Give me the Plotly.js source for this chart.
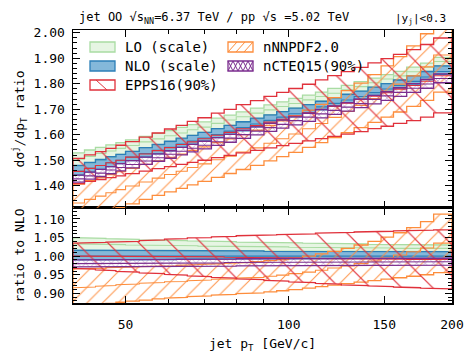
<!DOCTYPE html>
<html>
<head>
<meta charset="utf-8">
<script src="https://cdn.plot.ly/plotly-3.0.1.min.js"></script>
<style>html,body{margin:0;padding:0;background:#fff}#chart{width:464px;height:357px}</style>
</head>
<body>
<div id="chart"></div>
<script>
// pT bin edges [GeV/c]
const binEdges = [40,42,44,46,48,50,53,56,59,62,65,68,72,76,80,85,90,95,100,106,112,118,125,132,140,148,156,165,175,185,200];

// NLO central value of the OO/pp jet spectrum ratio, per bin
const nloCentral = [1.456,1.468,1.479,1.490,1.500,1.512,1.526,1.539,1.551,1.563,1.575,1.587,1.601,1.614,1.628,1.642,1.656,1.669,1.682,1.696,1.709,1.723,1.736,1.750,1.765,1.779,1.793,1.809,1.826,1.848];

// Everything below is relative to the NLO central value, per bin
const loLow    = [1.015,1.015,1.015,1.015,1.015,1.015,1.015,1.014,1.014,1.014,1.014,1.014,1.014,1.014,1.013,1.013,1.013,1.013,1.013,1.013,1.013,1.012,1.012,1.012,1.012,1.012,1.012,1.012,1.012,1.012];
const loMid    = [1.033,1.032,1.032,1.031,1.031,1.030,1.030,1.029,1.029,1.028,1.028,1.027,1.027,1.027,1.026,1.026,1.025,1.025,1.024,1.024,1.024,1.023,1.023,1.022,1.022,1.022,1.021,1.021,1.021,1.021];
const loHigh   = [1.050,1.049,1.048,1.047,1.046,1.045,1.044,1.043,1.042,1.042,1.041,1.040,1.040,1.039,1.038,1.038,1.037,1.036,1.036,1.035,1.034,1.034,1.033,1.033,1.032,1.032,1.031,1.031,1.030,1.030];
const nloLow   = [0.990,0.990,0.990,0.990,0.991,0.991,0.991,0.991,0.991,0.992,0.992,0.992,0.992,0.992,0.992,0.993,0.993,0.993,0.993,0.993,0.993,0.993,0.994,0.994,0.994,0.994,0.994,0.994,0.994,0.994];
const nloHigh  = [1.016,1.016,1.016,1.016,1.015,1.015,1.015,1.015,1.015,1.015,1.014,1.014,1.014,1.014,1.014,1.014,1.013,1.013,1.013,1.013,1.013,1.013,1.013,1.012,1.012,1.012,1.012,1.012,1.012,1.012];
const eppsLow  = [0.967,0.965,0.963,0.961,0.959,0.957,0.955,0.953,0.951,0.949,0.947,0.945,0.943,0.941,0.939,0.937,0.935,0.933,0.931,0.929,0.927,0.925,0.923,0.921,0.920,0.918,0.917,0.915,0.914,0.912];
const eppsMid  = [1.000,1.000,1.000,1.000,1.000,1.000,0.999,0.999,0.999,0.999,0.998,0.998,0.998,0.997,0.997,0.996,0.996,0.995,0.995,0.994,0.994,0.993,0.993,0.993,0.992,0.992,0.992,0.991,0.991,0.991];
const eppsHigh = [1.035,1.036,1.037,1.038,1.039,1.040,1.042,1.044,1.046,1.047,1.049,1.050,1.052,1.053,1.055,1.056,1.057,1.058,1.059,1.060,1.062,1.063,1.064,1.065,1.066,1.067,1.068,1.069,1.070,1.071];
const nnpdfLow = [0.864,0.867,0.870,0.873,0.876,0.879,0.882,0.885,0.887,0.889,0.891,0.893,0.895,0.897,0.899,0.901,0.904,0.907,0.910,0.914,0.918,0.922,0.926,0.930,0.934,0.938,0.942,0.946,0.950,0.956];
const nnpdfMid = [0.915,0.917,0.919,0.921,0.923,0.925,0.927,0.929,0.931,0.932,0.934,0.936,0.938,0.939,0.941,0.943,0.946,0.949,0.953,0.957,0.962,0.968,0.974,0.980,0.987,0.995,1.003,1.012,1.022,1.035];
const nnpdfHigh= [0.966,0.967,0.968,0.969,0.970,0.971,0.972,0.973,0.974,0.975,0.977,0.978,0.980,0.981,0.983,0.985,0.988,0.991,0.995,1.000,1.006,1.013,1.021,1.030,1.040,1.051,1.063,1.077,1.093,1.113];
const ncteqLow = [0.971,0.971,0.971,0.971,0.972,0.972,0.972,0.972,0.972,0.973,0.973,0.973,0.973,0.973,0.974,0.974,0.974,0.974,0.974,0.974,0.975,0.975,0.975,0.975,0.975,0.975,0.976,0.976,0.976,0.976];
const ncteqMid = [0.980,0.980,0.980,0.981,0.981,0.981,0.981,0.981,0.982,0.982,0.982,0.982,0.982,0.983,0.983,0.983,0.983,0.983,0.984,0.984,0.984,0.984,0.984,0.984,0.985,0.985,0.985,0.985,0.985,0.985];
const ncteqHigh= [0.990,0.990,0.990,0.990,0.991,0.991,0.991,0.991,0.991,0.992,0.992,0.992,0.992,0.992,0.993,0.993,0.993,0.993,0.993,0.993,0.994,0.994,0.994,0.994,0.994,0.994,0.995,0.995,0.995,0.995];

// Tick labels
const xTicks = [50,100,150,200];
const xMinorTicks = [60,70,80,90];
const yTopTicks = [1.40,1.50,1.60,1.70,1.80,1.90,2.00];
const yRatioTicks = [0.90,0.95,1.00,1.05,1.10];

const nloOne = nloCentral.map(v => v / v);

const series = [
  {name:'LO (scale)',   lo:loLow,    mid:loMid,    hi:loHigh,    line:'#a9dca3', fill:'rgba(199,233,192,0.45)', pattern:null},
  {name:'NLO (scale)',  lo:nloLow,   mid:nloOne,   hi:nloHigh,   line:'#2c7fb8', fill:'rgba(66,146,198,0.65)', pattern:null},
  {name:'nNNPDF2.0',    lo:nnpdfLow, mid:nnpdfMid, hi:nnpdfHigh, line:'#fd8d3c', fill:null, pattern:{shape:'/', size:11, solidity:0.1}},
  {name:'EPPS16(90%)',  lo:eppsLow,  mid:eppsMid,  hi:eppsHigh,  line:'#e0313b', fill:null, pattern:{shape:'\\', size:22, solidity:0.055}},
  {name:'nCTEQ15(90%)', lo:ncteqLow, mid:ncteqMid, hi:ncteqHigh, line:'#7b2d8e', fill:null, pattern:{shape:'x', size:6, solidity:0.12}}
];

// Step-shaped band: upper edge left to right, lower edge back
function stepBand(lo, hi, scale) {
  const xs = [], ys = [];
  const k = i => (scale ? scale[i] : 1);
  for (let i = 0; i < hi.length; i++) { xs.push(binEdges[i], binEdges[i+1]); ys.push(hi[i]*k(i), hi[i]*k(i)); }
  for (let i = lo.length - 1; i >= 0; i--) { xs.push(binEdges[i+1], binEdges[i]); ys.push(lo[i]*k(i), lo[i]*k(i)); }
  xs.push(xs[0]); ys.push(ys[0]);
  return {xs, ys};
}
// Central value as a step line
function stepLine(v, scale) {
  const xs = [], ys = [];
  v.forEach((y, i) => { const val = y * (scale ? scale[i] : 1); xs.push(binEdges[i], binEdges[i+1]); ys.push(val, val); });
  return {xs, ys};
}

const traces = [];
series.forEach(s => {
  [['x2','y2',nloCentral],['x','y',null]].forEach(([xa, ya, sc]) => {
    const b = stepBand(s.lo, s.hi, sc);
    const t = {
      x: b.xs, y: b.ys, xaxis: xa, yaxis: ya, mode: 'lines', fill: 'toself',
      line: {color: s.line, width: 1.3}, hoverinfo: 'skip', showlegend: false, name: s.name
    };
    if (s.pattern) {
      t.fillcolor = 'rgba(0,0,0,0)';
      t.fillpattern = {shape: s.pattern.shape, fgcolor: s.line, bgcolor: 'rgba(0,0,0,0)', size: s.pattern.size, solidity: s.pattern.solidity, fgopacity: 0.9};
    } else {
      t.fillcolor = s.fill;
    }
    traces.push(t);
    const m = stepLine(s.mid, sc);
    traces.push({
      x: m.xs, y: m.ys, xaxis: xa, yaxis: ya, mode: 'lines',
      line: {color: s.line, width: 1.1}, hoverinfo: 'skip', showlegend: false, name: s.name
    });
  });
});

const mono = '"DejaVu Sans Mono", "Liberation Mono", monospace';
function xAxis(anchor, labels) {
  return {
    type: 'log', autorange: false, range: [Math.log10(40), Math.log10(200)], anchor: anchor,
    showline: true, linecolor: '#000', linewidth: 1.5, mirror: 'allticks',
    ticks: 'inside', ticklen: 7, tickwidth: 1, tickcolor: '#000',
    tickmode: 'array', tickvals: xTicks.slice(), ticktext: xTicks.map(String),
    showticklabels: labels, tickfont: {size: 13}, ticklabelstandoff: 9,
    minor: {tickmode: 'array', tickvals: xMinorTicks.slice(), ticks: 'inside', ticklen: 4, tickcolor: '#000'},
    showgrid: false, zeroline: false, fixedrange: true
  };
}

const layout = {
  width: 464, height: 357,
  margin: {l: 73, r: 12, t: 30, b: 54},
  paper_bgcolor: '#fff', plot_bgcolor: '#fff',
  font: {family: mono, size: 13, color: '#000'},
  showlegend: false,
  xaxis: Object.assign(xAxis('y', true), {
    title: {text: 'jet p<sub>T</sub> [GeV/c]', font: {size: 13}, standoff: 8}
  }),
  xaxis2: xAxis('y2', false),
  yaxis: {
    domain: [0, 0.348], autorange: false, range: [0.874, 1.1296], anchor: 'x',
    showline: true, linecolor: '#000', linewidth: 1.5, mirror: 'allticks',
    ticks: 'inside', ticklen: 7, tickcolor: '#000',
    tickmode: 'array', tickvals: yRatioTicks, ticktext: yRatioTicks.map(v => v.toFixed(2)),
    tickfont: {size: 13},
    minor: {dtick: 0.01, ticks: 'inside', ticklen: 4, tickcolor: '#000'},
    showgrid: false, zeroline: false, fixedrange: true, ticklabelstandoff: 4,
    title: {text: 'ratio to NLO', font: {size: 13}, standoff: 6}
  },
  yaxis2: {
    domain: [0.348, 1], autorange: false, range: [1.3125, 2.0106], anchor: 'x2',
    showline: true, linecolor: '#000', linewidth: 1.5, mirror: 'allticks',
    ticks: 'inside', ticklen: 7, tickcolor: '#000',
    tickmode: 'array', tickvals: yTopTicks, ticktext: yTopTicks.map(v => v.toFixed(2)),
    tickfont: {size: 13},
    minor: {dtick: 0.02, ticks: 'inside', ticklen: 4, tickcolor: '#000'},
    showgrid: false, zeroline: false, fixedrange: true, ticklabelstandoff: 4,
    title: {text: 'dσ<sup>j</sup>/dp<sub>T</sub> ratio', font: {size: 13}, standoff: 6}
  },
  annotations: [
    {text: 'jet OO √s<sub>NN</sub>=6.37 TeV / pp √s =5.02 TeV', xref: 'paper', yref: 'paper',
     x: 0.01, y: 1, xanchor: 'left', yanchor: 'bottom', yshift: 2, showarrow: false, font: {size: 12}},
    {text: '|y<sub>j</sub>|<0.3', xref: 'paper', yref: 'paper',
     x: 0.99, y: 1, xanchor: 'right', yanchor: 'bottom', yshift: 2, showarrow: false, font: {size: 11}}
  ],
  shapes: []
};

// Hand-built legend inside the upper panel
const legendItems = [
  {label: 'LO (scale)',   col: 0, row: 0, s: series[0]},
  {label: 'NLO (scale)',  col: 0, row: 1, s: series[1]},
  {label: 'EPPS16(90%)',  col: 0, row: 2, s: series[3]},
  {label: 'nNNPDF2.0',    col: 1, row: 0, s: series[2]},
  {label: 'nCTEQ15(90%)', col: 1, row: 1, s: series[4]}
];
const W = 464 - 73 - 12, H = 357 - 30 - 54;
const px = x => (x - 73) / W;
const py = y => 1 - (y - 30) / H;
legendItems.forEach(it => {
  const x0 = it.col ? 228 : 90, x1 = x0 + 25;
  const yc = 47 + it.row * 19, y0 = yc - 5, y1 = yc + 5;
  const s = it.s;
  layout.shapes.push({type: 'rect', xref: 'paper', yref: 'paper', x0: px(x0), x1: px(x1), y0: py(y1), y1: py(y0),
    line: {color: s.line, width: 1.3}, fillcolor: s.fill || 'rgba(0,0,0,0)'});
  if (s.pattern && s.pattern.shape === '\\') {
    layout.shapes.push({type: 'line', xref: 'paper', yref: 'paper', x0: px(x0 + 6), y0: py(y0), x1: px(x0 + 17), y1: py(y1), line: {color: s.line, width: 1}});
  } else if (s.pattern && s.pattern.shape === '/') {
    [0, 8, 16].forEach(o => layout.shapes.push({type: 'line', xref: 'paper', yref: 'paper', x0: px(x0 + o), y0: py(y1), x1: px(x0 + o + 9), y1: py(y0), line: {color: s.line, width: 1}}));
  } else if (s.pattern && s.pattern.shape === 'x') {
    for (let o = 0; o < 25; o += 5) {
      layout.shapes.push({type: 'line', xref: 'paper', yref: 'paper', x0: px(x0 + o), y0: py(y1), x1: px(Math.min(x0 + o + 5, x1)), y1: py(y0), line: {color: s.line, width: 1}});
      layout.shapes.push({type: 'line', xref: 'paper', yref: 'paper', x0: px(x0 + o), y0: py(y0), x1: px(Math.min(x0 + o + 5, x1)), y1: py(y1), line: {color: s.line, width: 1}});
    }
  }
  layout.annotations.push({text: it.label, xref: 'paper', yref: 'paper', x: px(x1 + 8), y: py(yc),
    xanchor: 'left', yanchor: 'middle', showarrow: false, font: {size: 14}});
});

Plotly.newPlot('chart', traces, layout, {displayModeBar: false, staticPlot: true});
</script>
</body>
</html>
